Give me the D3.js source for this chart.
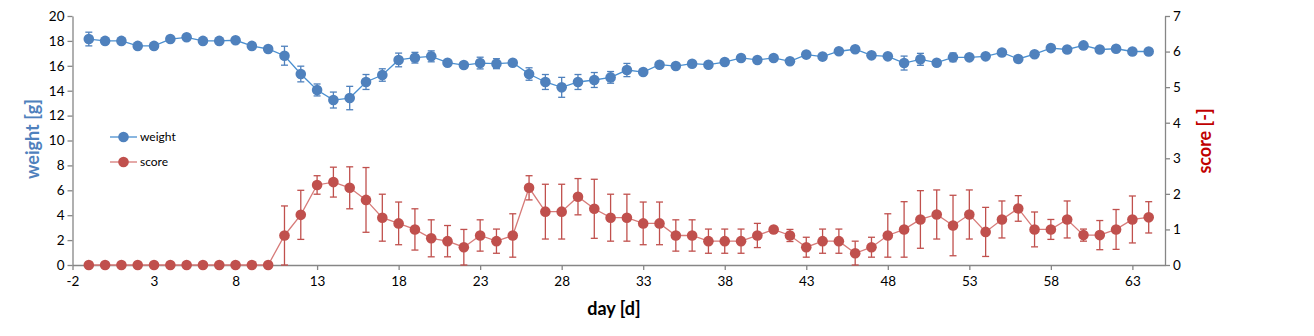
<!DOCTYPE html>
<html><head><meta charset="utf-8">
<script src="https://cdn.jsdelivr.net/npm/d3@7"></script>
<style>
html,body{margin:0;padding:0;background:#fff;}
svg text{font-family:Lato,"Open Sans",sans-serif;}
</style>
</head><body>
<svg id="chart" width="1314" height="336"></svg>
<script>
const days = d3.range(-1, 65);
const weight = [18.15,18.0,18.0,17.6,17.6,18.15,18.29,18.0,18.0,18.05,17.6,17.35,
 16.81,15.34,14.06,13.25,13.41,14.70,15.26,16.47,16.65,16.76,16.25,16.06,16.22,16.17,16.25,
 15.34,14.70,14.27,14.70,14.86,15.07,15.66,15.50,16.09,15.98,16.17,16.09,16.30,16.63,16.47,
 16.63,16.36,16.90,16.74,17.17,17.33,16.84,16.76,16.22,16.52,16.25,16.68,16.68,16.76,17.07,
 16.55,16.93,17.42,17.31,17.64,17.31,17.37,17.15,17.15];
const weightErr = [0.55,0.2,0.2,0.2,0.2,0.2,0.2,0.2,0.2,0.2,0.2,0.2,
 0.76,0.63,0.48,0.64,0.94,0.60,0.50,0.55,0.43,0.44,0.2,0.2,0.47,0.40,0.2,
 0.50,0.60,0.80,0.60,0.60,0.47,0.53,0.2,0.2,0.2,0.2,0.2,0.2,0.2,0.2,
 0.2,0.2,0.2,0.2,0.2,0.2,0.2,0.2,0.56,0.48,0.2,0.35,0.2,0.2,0.2,
 0.2,0.2,0.2,0.2,0.2,0.2,0.2,0.2,0.2];
const score = [0,0,0,0,0,0,0,0,0,0,0,0,
 0.83,1.41,2.25,2.33,2.17,1.83,1.33,1.17,1.0,0.75,0.67,0.5,0.83,0.67,0.83,
 2.17,1.5,1.5,1.92,1.58,1.33,1.33,1.17,1.17,0.83,0.83,0.67,0.67,0.67,0.83,
 1.0,0.83,0.5,0.67,0.67,0.33,0.5,0.83,1.0,1.28,1.42,1.11,1.42,0.93,1.28,
 1.59,1.0,1.0,1.28,0.84,0.84,1.0,1.28,1.34];
const scoreErr = [0,0,0,0,0,0,0,0,0,0,0,0,
 0.83,0.69,0.26,0.42,0.59,0.91,0.66,0.60,0.58,0.52,0.44,0.50,0.44,0.34,0.61,
 0.34,0.77,0.77,0.51,0.83,0.66,0.66,0.60,0.60,0.44,0.44,0.34,0.34,0.34,0.34,
 0.05,0.17,0.28,0.34,0.34,0.34,0.28,0.61,0.78,0.81,0.69,0.85,0.69,0.69,0.52,
 0.36,0.49,0.28,0.52,0.17,0.41,0.56,0.66,0.44];
const xTicks = d3.range(-2, 64, 5);
const leftTicks = d3.range(0, 21, 2);
const rightTicks = d3.range(0, 8, 1);

const svg = d3.select("#chart");
const x = d3.scaleLinear().domain([-2, 65]).range([72.5, 1165]);
const yL = d3.scaleLinear().domain([0, 20]).range([265, 16]);
const yR = d3.scaleLinear().domain([0, 7]).range([265, 16]);
const axisColor = "#868686";
const fmt = d => String(d);

function styleAxis(g){
  g.selectAll("path.domain").attr("stroke", axisColor).attr("stroke-width",1.3);
  g.selectAll(".tick line").attr("stroke", axisColor).attr("stroke-width",1.3);
  g.selectAll(".tick text").attr("fill","#000").style("font-size","13.5px");
}
const gx = svg.append("g").attr("transform","translate(0,265)")
  .call(d3.axisBottom(x).tickValues(xTicks).tickSize(5).tickSizeOuter(0).tickFormat(fmt));
styleAxis(gx); gx.selectAll(".tick text").attr("dy","0.95em");
const gl = svg.append("g").attr("transform","translate(72.5,0)")
  .call(d3.axisLeft(yL).tickValues(leftTicks).tickSize(5).tickSizeOuter(0).tickFormat(fmt));
styleAxis(gl);
const gr = svg.append("g").attr("transform","translate(1165,0)")
  .call(d3.axisRight(yR).tickValues(rightTicks).tickSize(5).tickSizeOuter(0).tickFormat(fmt));
styleAxis(gr);

function series(vals, errs, y, lineCol, col){
  const data = days.map((d,i)=>({d, v: vals[i], e: errs[i]}));
  const g = svg.append("g");
  g.append("path").datum(data)
    .attr("fill","none").attr("stroke",lineCol).attr("stroke-width",1.3)
    .attr("d", d3.line().x(p=>x(p.d)).y(p=>y(p.v)));
  const eb = g.selectAll("g.eb").data(data.filter(p=>p.e>0)).join("g");
  eb.append("line").attr("x1",p=>x(p.d)).attr("x2",p=>x(p.d))
    .attr("y1",p=>y(Math.max(0,p.v-p.e))).attr("y2",p=>y(p.v+p.e))
    .attr("stroke",col).attr("stroke-width",1.3);
  [p=>p.v+p.e, p=>Math.max(0,p.v-p.e)].forEach(f=>{
    eb.append("line").attr("x1",p=>x(p.d)-3.5).attr("x2",p=>x(p.d)+3.5)
      .attr("y1",p=>y(f(p))).attr("y2",p=>y(f(p)))
      .attr("stroke",col).attr("stroke-width",1.3);
  });
  g.selectAll("circle").data(data).join("circle")
    .attr("cx",p=>x(p.d)).attr("cy",p=>y(p.v)).attr("r",5.3).attr("fill",col);
}
series(score, scoreErr, yR, "#D77B79", "#C0504D");
series(weight, weightErr, yL, "#4A8FD0", "#4F81BD");

// legend
const legend = [{name:"weight", line:"#4A8FD0", col:"#4F81BD", y:137},{name:"score", line:"#D77B79", col:"#C0504D", y:162}];
const lg = svg.append("g");
legend.forEach(l=>{
  lg.append("line").attr("x1",110).attr("x2",137).attr("y1",l.y).attr("y2",l.y).attr("stroke",l.line).attr("stroke-width",1.3);
  lg.append("circle").attr("cx",123.5).attr("cy",l.y).attr("r",5.3).attr("fill",l.col);
  lg.append("text").attr("x",140).attr("y",l.y).attr("dy","0.35em").style("font-size","12px").attr("fill","#000").text(l.name);
});

// titles
svg.append("text").attr("transform","translate(39,139) rotate(-90)").attr("text-anchor","middle")
  .style("font-size","18px").style("font-weight","bold").attr("fill","#4F81BD").text("weight [g]");
svg.append("text").attr("transform","translate(1211,141) rotate(-90)").attr("text-anchor","middle")
  .style("font-size","18px").style("font-weight","bold").attr("fill","#C00000").text("score [-]");
svg.append("text").attr("x",614).attr("y",315).attr("text-anchor","middle")
  .style("font-size","18px").style("font-weight","bold").attr("fill","#000").text("day [d]");
</script>
</body></html>
